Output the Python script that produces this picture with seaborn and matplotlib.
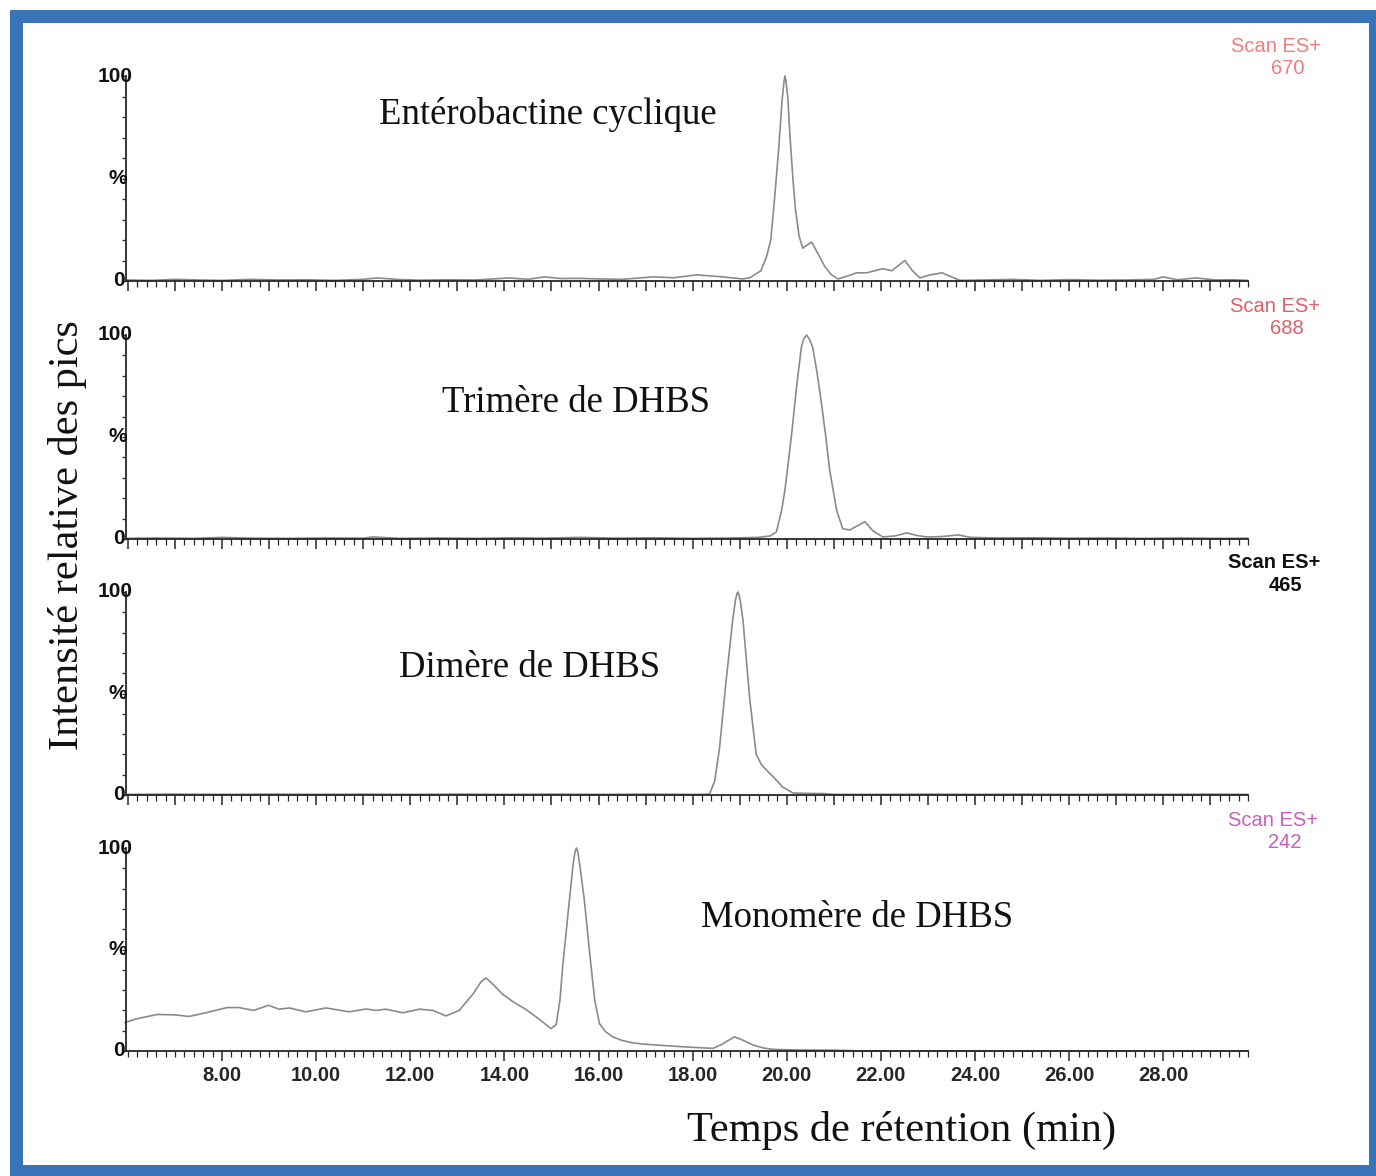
import matplotlib
matplotlib.use("Agg")
import matplotlib.pyplot as plt
from matplotlib.patches import Rectangle
from matplotlib.ticker import MultipleLocator, FuncFormatter
import seaborn as sns

# ---------------- chromatogram traces (retention time in min, relative intensity in %) ----------------
enterobactin_t = [5.96, 6.5, 7.0, 7.5, 8.0, 8.6, 9.2, 9.8, 10.4, 11.0, 11.3, 11.7, 12.2, 12.8, 13.4,
                  14.1, 14.5, 14.85, 15.2, 15.6, 16.0, 16.5, 17.15, 17.6, 18.09, 18.64, 19.06, 19.21,
                  19.45, 19.57, 19.66, 19.74, 19.83, 19.90, 19.94, 19.96, 19.98, 20.02, 20.07, 20.13,
                  20.18, 20.26, 20.34, 20.43, 20.53, 20.67, 20.81, 20.95, 21.09, 21.3, 21.49, 21.70,
                  21.87, 22.04, 22.23, 22.37, 22.51, 22.67, 22.83, 23.05, 23.30, 23.5, 23.68, 24.2,
                  24.8, 25.4, 26.0, 26.6, 27.2, 27.8, 28.0, 28.3, 28.7, 29.1, 29.5, 29.8]
enterobactin_v = [0.5, 0.3, 0.8, 0.5, 0.3, 0.8, 0.5, 0.6, 0.3, 0.8, 1.5, 0.8, 0.4, 0.6, 0.5,
                  1.5, 0.8, 2.0, 1.2, 1.3, 1.0, 0.8, 2.0, 1.6, 3.0, 2.0, 1.0, 1.5,
                  5.0, 11.8, 20, 40, 65, 88, 97, 100, 98, 90, 70, 50,
                  36, 22, 16, 17.5, 19, 13, 7, 3, 1, 2.5, 4, 4,
                  5, 6, 5, 7.5, 10, 5, 1.5, 3, 4, 2, 0.3, 0.5,
                  0.8, 0.3, 0.7, 0.4, 0.5, 0.8, 2.0, 0.6, 1.5, 0.5, 0.6, 0.3]

trimer_t = [5.96, 6.6, 7.4, 8.0, 8.6, 9.4, 10.2, 11.0, 11.2, 11.8, 12.6, 13.4, 14.2, 14.8, 15.6,
            16.4, 17.2, 18.0, 18.8, 19.4, 19.65, 19.78, 19.89, 19.96, 20.02, 20.12, 20.21, 20.31,
            20.36, 20.42, 20.48, 20.55, 20.64, 20.74, 20.83, 20.91, 21.06, 21.19, 21.34, 21.5,
            21.66, 21.83, 22.04, 22.3, 22.55, 22.75, 22.97, 23.3, 23.64, 23.9, 24.5, 25.2, 26.0,
            26.8, 27.6, 28.4, 29.2, 29.8]
trimer_v = [0.3, 0.5, 0.3, 0.8, 0.4, 0.3, 0.5, 0.4, 1.0, 0.3, 0.5, 0.3, 0.6, 0.4, 0.8,
            0.4, 0.6, 0.3, 0.5, 0.8, 1.5, 3.5, 14, 24, 35, 55, 75, 94,
            98, 100, 98, 94, 82, 66, 50, 34, 14, 5, 4.4, 6.5,
            8.5, 4, 1, 1.5, 3, 1.8, 1, 1.2, 2, 0.8, 0.5, 0.6, 0.4,
            0.5, 0.3, 0.5, 0.3, 0.4]

dimer_t = [5.96, 7.0, 8.0, 9.0, 10.0, 11.0, 12.0, 13.0, 14.0, 15.0, 16.0, 17.0, 18.0, 18.2,
           18.36, 18.47, 18.57, 18.71, 18.85, 18.91, 18.94, 18.96, 18.98, 19.01, 19.07, 19.21,
           19.35, 19.46, 19.58, 19.71, 19.91, 20.13, 20.4, 20.77, 21.0, 22.0, 23.0, 24.0, 25.0,
           26.0, 27.0, 28.0, 29.0, 29.8]
dimer_v = [0.3, 0.4, 0.3, 0.4, 0.3, 0.4, 0.3, 0.4, 0.3, 0.4, 0.3, 0.4, 0.3, 0.3,
           0.5, 7, 23, 56, 86, 96, 99, 100, 99, 96, 86, 48,
           20, 15, 12, 9, 4, 1, 0.8, 0.7, 0.3, 0.3, 0.4, 0.3, 0.4,
           0.3, 0.4, 0.3, 0.4, 0.3]

monomer_t = [5.94, 6.16, 6.62, 7.0, 7.30, 7.65, 8.11, 8.36, 8.67, 8.99, 9.21, 9.43, 9.78, 10.21,
             10.70, 11.06, 11.27, 11.48, 11.84, 12.19, 12.48, 12.76, 13.04, 13.33, 13.5, 13.61,
             13.75, 13.96, 14.2, 14.45, 14.75, 14.99, 15.10, 15.18, 15.24, 15.38, 15.46, 15.50,
             15.53, 15.56, 15.60, 15.70, 15.84, 15.92, 16.02, 16.15, 16.30, 16.5, 16.73, 17.0,
             17.44, 18.0, 18.43, 18.6, 18.89, 19.05, 19.28, 19.5, 19.71, 20.2, 21.0, 21.5, 22.5,
             24.0, 26.0, 28.0, 29.8]
monomer_v = [14, 15.7, 18, 17.8, 17, 18.8, 21.4, 21.4, 20, 22.5, 20.6, 21.2, 19.3, 21.2,
             19.3, 20.7, 20, 20.6, 18.8, 20.6, 20, 17.3, 20, 28, 34, 36,
             33, 28, 24, 20.6, 15.5, 11, 13, 25, 42, 74, 92, 98,
             100, 98, 92, 74, 42, 25, 13.5, 9.5, 7, 5.2, 4, 3.3,
             2.6, 1.8, 1.3, 3, 7, 5.5, 3, 1.5, 0.8, 0.5, 0.4, 0.1, 0.0,
             0.0, 0.0, 0.0, 0.0]

compound_names = ["Entérobactine cyclique", "Trimère de DHBS", "Dimère de DHBS", "Monomère de DHBS"]
scan_masses = ["670", "688", "465", "242"]
scan_colors = ["#f27b7b", "#de5f68", "#111111", "#c95fb9"]
scan_weights = ["normal", "normal", "bold", "normal"]
x_tick_values = [8, 10, 12, 14, 16, 18, 20, 22, 24, 26, 28]

traces = [(enterobactin_t, enterobactin_v), (trimer_t, trimer_v),
          (dimer_t, dimer_v), (monomer_t, monomer_v)]

# ---------------- style ----------------
sns.set_style("white")
plt.rcParams["font.family"] = ["Liberation Sans", "DejaVu Sans"]
SERIF = ["Liberation Serif", "DejaVu Serif"]
SANS = ["Liberation Sans", "DejaVu Sans"]

W, H = 1376, 1176
fig = plt.figure(figsize=(W / 100, H / 100), dpi=100)
fig.patch.set_facecolor("white")

# blue frame around the figure
frame = "#3a74b8"
for (x0, y0, w, h) in [(10, 10, 13, H - 10), (10, 10, W - 10, 13),
                       (W - 7, 10, 7, H - 10), (10, H - 11, W - 10, 11)]:
    fig.add_artist(Rectangle((x0 / W, 1 - (y0 + h) / H), w / W, h / H,
                             transform=fig.transFigure, facecolor=frame,
                             edgecolor="none", zorder=0))

panel_px = [(76, 281), (335, 539), (592, 795), (848, 1051)]
title_px = [(548, 115), (576, 403), (530, 668), (857, 918)]
scan_px = [(1276, 46), (1275, 306), (1274, 563), (1273, 820)]
left_px, right_px = 126, 1248
line_color = "#8a8a8a"
axis_color = "#262626"

axes = []
for i, (top, bot) in enumerate(panel_px):
    ax = fig.add_axes([left_px / W, 1 - bot / H, (right_px - left_px) / W, (bot - top) / H])
    axes.append(ax)
    t, v = traces[i]
    sns.lineplot(x=t, y=v, ax=ax, color=line_color, linewidth=1.2, sort=False)
    for ln in ax.lines:
        ln.set_clip_on(False)
    ax.set_xlim(5.96, 29.8)
    ax.set_ylim(0, 100)
    ax.set_xlabel("")
    ax.set_ylabel("")
    ax.patch.set_alpha(0)
    for s in ["top", "right"]:
        ax.spines[s].set_visible(False)
    for s in ["left", "bottom"]:
        ax.spines[s].set_color(axis_color)
        ax.spines[s].set_linewidth(1.3)

    ax.xaxis.set_major_locator(MultipleLocator(1))
    ax.xaxis.set_minor_locator(MultipleLocator(0.2))
    ax.tick_params(axis="x", which="both", bottom=True, top=False)
    ax.tick_params(axis="y", which="both", left=True, right=False)
    ax.tick_params(axis="x", which="major", direction="out", length=7, width=1.1, color=axis_color)
    ax.tick_params(axis="x", which="minor", direction="out", length=4, width=0.9, color=axis_color)
    ax.yaxis.set_major_locator(MultipleLocator(10))
    ax.tick_params(axis="y", which="major", direction="out", length=3, width=0.9,
                   color=axis_color, labelleft=False)

    if i == 3:
        ax.set_xticks(x_tick_values, minor=False)
        ax.xaxis.set_minor_locator(MultipleLocator(0.2))
        ax.xaxis.set_major_formatter(FuncFormatter(lambda val, pos: f"{val:.2f}"))
        ax.tick_params(axis="x", which="major", labelsize=14.5, pad=4)
        for lab in ax.get_xticklabels():
            lab.set_fontweight("bold")
            lab.set_family(SANS)
    else:
        ax.tick_params(axis="x", which="major", labelbottom=False)

    # intensity scale labels on the left spine
    for val, txt, dx in [(100, "100", 5), (50, "%", 1), (0, "0", -1)]:
        ax.annotate(txt, xy=(0, val), xycoords=("axes fraction", "data"),
                    xytext=(dx, 0), textcoords="offset points",
                    ha="right", va="center", fontsize=15, fontweight="bold",
                    family=SANS, color="#111111", annotation_clip=False)

    # compound name
    tx, ty = title_px[i]
    fig.text(tx / W, 1 - ty / H, compound_names[i], family=SERIF, fontsize=26.5,
             ha="center", va="center", color="#111111")

    # scan annotation
    sx, sy = scan_px[i]
    fig.text(sx / W, 1 - sy / H, "Scan ES+", family=SANS, fontsize=14.5,
             ha="center", va="center", color=scan_colors[i], fontweight=scan_weights[i])
    fig.text((sx + 12) / W, 1 - (sy + 23) / H, scan_masses[i], family=SANS, fontsize=14.5,
             ha="center", va="center", color=scan_colors[i], fontweight=scan_weights[i])

fig.text(68 / W, 1 - 535 / H, "Intensité relative des pics", family=SERIF, fontsize=30.5,
         rotation=90, ha="center", va="center", color="#111111")
fig.text(902 / W, 1 - 1130 / H, "Temps de rétention (min)", family=SERIF, fontsize=30.5,
         ha="center", va="center", color="#111111")

fig.savefig("out.png", dpi=100, facecolor="white")
